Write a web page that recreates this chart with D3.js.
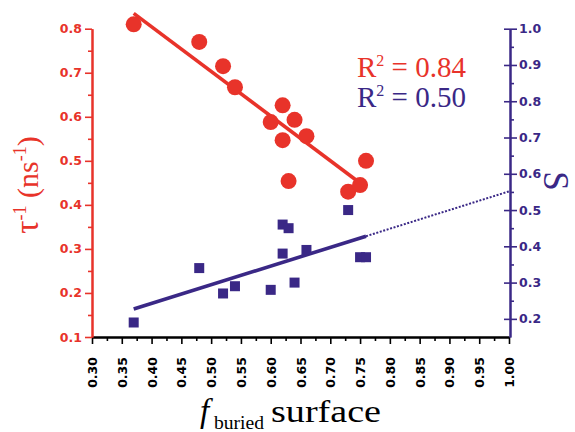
<!DOCTYPE html>
<html>
<head>
<meta charset="utf-8">
<script src="https://cdn.jsdelivr.net/npm/d3@7"></script>
<style>
  body { margin: 0; background: #fff; }
  svg { display: block; }
</style>
</head>
<body>
<svg id="chart" width="575" height="432"></svg>
<script>
// Inverse fluorescence lifetime vs. buried-surface fraction
const tauX   = [0.37, 0.48, 0.52, 0.54, 0.60, 0.62, 0.62, 0.63, 0.64, 0.66, 0.73, 0.75, 0.76];
const tauInv = [0.81, 0.77, 0.715, 0.667, 0.588, 0.626, 0.547, 0.454, 0.593, 0.556, 0.43, 0.445, 0.50];

// Order parameter S vs. buried-surface fraction
const sX   = [0.37, 0.48, 0.52, 0.54, 0.60, 0.62, 0.62, 0.63, 0.64, 0.66, 0.73, 0.75, 0.76];
const sVal = [0.19, 0.34, 0.27, 0.29, 0.28, 0.46, 0.38, 0.45, 0.30, 0.39, 0.50, 0.37, 0.37];

// Linear fits: [intercept, slope]
const tauFit = [1.210, -1.014];
const sFit   = [0.0365, 0.515];
const fitSpan   = [0.37, 0.76];   // solid part of both fits
const extendTo  = [0.76, 1.00];   // dotted extrapolation of the S fit
const r2Labels  = ["0.84", "0.50"];

// Tick values
const xMajor  = d3.range(0, 15).map(i => 0.30 + i * 0.05);
const xMinor  = d3.range(0, 14).map(i => 0.325 + i * 0.05);
const yLMajor = [0.1, 0.2, 0.3, 0.4, 0.5, 0.6, 0.7, 0.8];
const yLMinor = [0.15, 0.25, 0.35, 0.45, 0.55, 0.65, 0.75];
const yRMajor = [0.2, 0.3, 0.4, 0.5, 0.6, 0.7, 0.8, 0.9, 1.0];
const yRMinor = [0.25, 0.35, 0.45, 0.55, 0.65, 0.75, 0.85, 0.95];

const RED = "#e8332a";
const BLUE = "#3a2886";

const svg = d3.select("#chart");
const plotLeft = 92, plotRight = 509, plotTop = 28.7, plotBottom = 337;

const x  = d3.scaleLinear().domain([0.30, 1.00]).range([plotLeft, plotRight]);
const yL = d3.scaleLinear().domain([0.1, 0.8]).range([plotBottom, plotTop]);
const yR = d3.scaleLinear().domain([0.15, 1.0]).range([plotBottom, plotTop]);

const tickFont = g => g.selectAll("text")
  .attr("font-family", "'DejaVu Sans', sans-serif")
  .attr("font-weight", "bold")
  .attr("font-size", 12.5);

// Bottom axis
const gx = svg.append("g").attr("transform", `translate(0,${plotBottom})`);
gx.append("g").call(d3.axisBottom(x).tickValues(xMinor).tickSize(4).tickFormat("").tickSizeOuter(0));
gx.append("g").call(d3.axisBottom(x).tickValues(xMajor).tickSize(7).tickSizeOuter(0).tickFormat(d3.format(".2f")));
gx.selectAll(".domain").attr("stroke", "#000").attr("stroke-width", 2);
gx.selectAll(".tick line").attr("stroke", "#000").attr("stroke-width", 1.6);
gx.call(tickFont);
gx.selectAll("text")
  .attr("fill", "#000")
  .attr("transform", "rotate(-90)")
  .attr("text-anchor", "end")
  .attr("x", -20)
  .attr("y", 0)
  .attr("dy", "0.36em");

// Left axis
const gl = svg.append("g").attr("transform", `translate(${plotLeft},0)`);
gl.append("g").call(d3.axisLeft(yL).tickValues(yLMinor).tickSize(4).tickFormat("").tickSizeOuter(0));
gl.append("g").call(d3.axisLeft(yL).tickValues(yLMajor).tickSize(7).tickPadding(3).tickSizeOuter(0).tickFormat(d3.format(".1f")));
gl.selectAll(".domain").attr("stroke", RED).attr("stroke-width", 2);
gl.selectAll(".tick line").attr("stroke", RED).attr("stroke-width", 1.6);
gl.call(tickFont);
gl.selectAll("text").attr("fill", RED);

// Right axis
const gr = svg.append("g").attr("transform", `translate(${plotRight + 1},0)`);
gr.append("g").call(d3.axisRight(yR).tickValues(yRMinor).tickSize(4).tickFormat("").tickSizeOuter(0));
const grMajor = gr.append("g").call(d3.axisRight(yR).tickValues(yRMajor).tickSize(7).tickPadding(2).tickSizeOuter(0).tickFormat(d3.format(".1f")));
gr.selectAll(".domain").attr("stroke", BLUE).attr("stroke-width", 2);
gr.selectAll(".tick line").attr("stroke", BLUE).attr("stroke-width", 1.6);
grMajor.selectAll(".tick line").attr("x1", -6);
gr.call(tickFont);
gr.selectAll("text").attr("fill", BLUE);

// Fit lines
const fitLine = (fit, scale) => d3.line()
  .x(d => x(d))
  .y(d => scale(fit[0] + fit[1] * d));

svg.append("path")
  .attr("d", fitLine(tauFit, yL)(fitSpan))
  .attr("stroke", RED).attr("stroke-width", 3.6).attr("fill", "none");

svg.append("path")
  .attr("d", fitLine(sFit, yR)(fitSpan))
  .attr("stroke", BLUE).attr("stroke-width", 3.6).attr("fill", "none");

svg.append("path")
  .attr("d", fitLine(sFit, yR)(extendTo))
  .attr("stroke", BLUE).attr("stroke-width", 2).attr("stroke-dasharray", "2,1.6").attr("fill", "none");

// Points
svg.append("g").selectAll("circle")
  .data(tauX.map((v, i) => [v, tauInv[i]]))
  .join("circle")
  .attr("cx", d => x(d[0]))
  .attr("cy", d => yL(d[1]))
  .attr("r", 8)
  .attr("fill", RED);

const sq = 10;
svg.append("g").selectAll("rect")
  .data(sX.map((v, i) => [v, sVal[i]]))
  .join("rect")
  .attr("x", d => x(d[0]) - sq / 2)
  .attr("y", d => yR(d[1]) - sq / 2)
  .attr("width", sq)
  .attr("height", sq)
  .attr("fill", BLUE);

// R² annotations
const serif = "'Liberation Serif', 'Times New Roman', serif";
[[RED, 76.5, r2Labels[0]], [BLUE, 106.5, r2Labels[1]]].forEach(([c, yb, v]) => {
  const t = svg.append("text")
    .attr("x", 357).attr("y", yb)
    .attr("font-family", serif).attr("font-size", 29).attr("fill", c);
  t.append("tspan").text("R");
  t.append("tspan").attr("font-size", 16).attr("dy", -11).text("2");
  t.append("tspan").attr("dy", 11).text(" = " + v);
});

// Left axis title
const lt = svg.append("text")
  .attr("transform", "translate(38,185) rotate(-90)")
  .attr("text-anchor", "middle")
  .attr("font-family", serif).attr("font-size", 30).attr("fill", RED);
lt.append("tspan").attr("font-size", 33).text("τ");
lt.append("tspan").attr("font-size", 18).attr("dy", -12).text("-1");
lt.append("tspan").attr("dy", 12).text(" (ns");
lt.append("tspan").attr("font-size", 18).attr("dy", -12).text("-1");
lt.append("tspan").attr("dy", 12).text(")");

// Right axis title
svg.append("text")
  .attr("transform", "translate(544,181) rotate(90)")
  .attr("text-anchor", "middle")
  .attr("font-family", serif).attr("font-size", 35).attr("fill", BLUE)
  .text("S");

// Bottom axis title
svg.append("text")
  .attr("x", 200).attr("y", 422)
  .attr("font-family", serif).attr("font-style", "italic").attr("font-size", 33).attr("fill", "#000")
  .text("f");
svg.append("text")
  .attr("x", 214).attr("y", 429)
  .attr("font-family", serif).attr("font-size", 19).attr("fill", "#000")
  .attr("textLength", 50).attr("lengthAdjust", "spacingAndGlyphs")
  .text("buried");
svg.append("text")
  .attr("x", 271).attr("y", 422)
  .attr("font-family", serif).attr("font-size", 31).attr("fill", "#000")
  .attr("textLength", 110).attr("lengthAdjust", "spacingAndGlyphs")
  .text("surface");
</script>
</body>
</html>
